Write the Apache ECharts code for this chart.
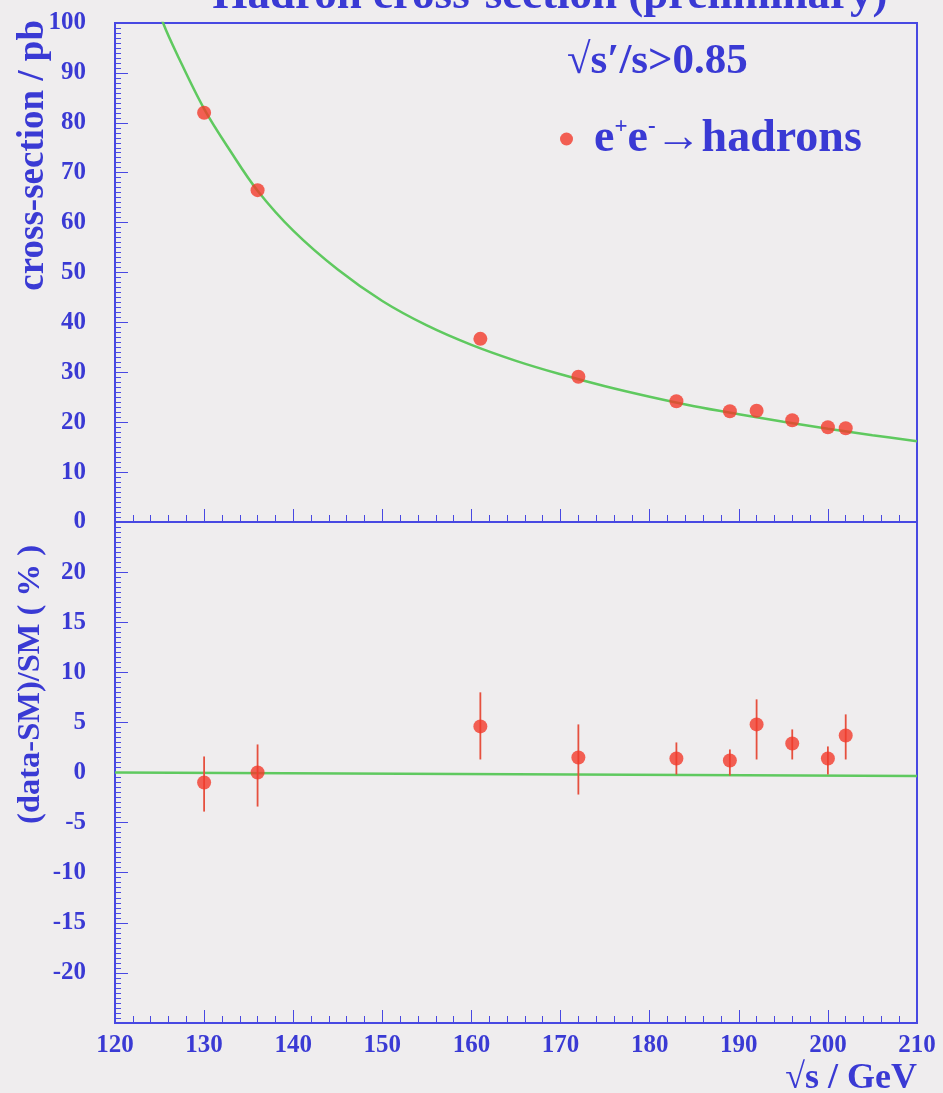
<!DOCTYPE html>
<html>
<head>
<meta charset="utf-8">
<script src="https://cdn.jsdelivr.net/npm/echarts@6/dist/echarts.min.js"></script>
<style>
  html, body { margin: 0; padding: 0; background: #efedee; }
  #chart { width: 943px; height: 1093px; }
</style>
</head>
<body>
<div id="chart"></div>
<script>
// Centre-of-mass energies (GeV) of the measured points
const energies = [130, 136, 161, 172, 183, 189, 192, 196, 200, 202];
// Measured hadronic cross-section (pb), sqrt(s')/s > 0.85
const crossSection = [82.0, 66.5, 36.7, 29.1, 24.2, 22.2, 22.3, 20.4, 19.0, 18.8];
// Relative deviation from the Standard Model (%), with error-bar ends
const residual     = [-1.0, 0.0, 4.6, 1.5, 1.4, 1.2, 4.8, 2.9, 1.4, 3.7];
const residualHigh = [1.6, 2.8, 8.0, 4.8, 3.0, 2.3, 7.3, 4.3, 2.6, 5.8];
const residualLow  = [-3.9, -3.4, 1.3, -2.2, -0.2, -0.3, 1.3, 1.3, -0.2, 1.3];

// Standard Model prediction curve (values above 100 pb run off the top of the frame)
const smEnergy = [120, 123, 125.4, 127, 130, 133, 136, 140, 145, 150, 155, 160, 165, 170, 175, 180, 185, 190, 195, 200, 205, 210];
const smXsec   = [127, 112, 100, 93.6, 82.8, 74.2, 66.4, 58.4, 50.6, 44.3, 39.4, 35.5, 32.3, 29.6, 27.2, 25.1, 23.2, 21.6, 20.1, 18.7, 17.4, 16.2];
const smRatioEnergy = [120, 210];
const smRatio       = [0, -0.35];

// Axis ticks
const xTicks = { min: 120, max: 210, step: 10 };
const yTopTicks = { min: 0, max: 100, step: 10 };
const yBottomTicks = { min: -25, max: 25, step: 5 };

const BLUE = '#3a3ad4';
const FRAME = '#4848e2';
const RED = '#f23a2a';
const GREEN = '#5fc95f';
const SERIF = "'Liberation Serif', 'DejaVu Serif', serif";

const pairs = (xs, ys) => xs.map((x, i) => [x, ys[i]]);

const labelStyle = { color: BLUE, fontFamily: SERIF, fontWeight: 'bold', fontSize: 25 };

function xAxisCfg(gridIndex, showLabels) {
  return {
    type: 'value', gridIndex,
    min: xTicks.min, max: xTicks.max, interval: xTicks.step,
    axisLine: { show: true, onZero: false, lineStyle: { color: FRAME, width: 2 } },
    axisTick: { show: true, inside: true, length: 13, lineStyle: { color: FRAME, width: 1 } },
    minorTick: { show: true, splitNumber: 5, length: 7, lineStyle: { color: FRAME, width: 1 } },
    splitLine: { show: false },
    axisLabel: Object.assign({ show: showLabels, margin: 10 }, labelStyle)
  };
}

function yAxisCfg(gridIndex, t, hideEnds) {
  return {
    type: 'value', gridIndex,
    min: t.min, max: t.max, interval: t.step,
    axisLine: { show: true, onZero: false, lineStyle: { color: FRAME, width: 2 } },
    axisTick: { show: true, inside: true, length: 13, lineStyle: { color: FRAME, width: 1 } },
    minorTick: { show: true, splitNumber: 10, length: 6, lineStyle: { color: FRAME, width: 1 } },
    splitLine: { show: false },
    axisLabel: Object.assign({
      margin: 29,
      showMinLabel: !hideEnds, showMaxLabel: !hideEnds
    }, labelStyle)
  };
}

const chart = echarts.init(document.getElementById('chart'), null, { renderer: 'canvas' });

chart.setOption({
  backgroundColor: '#efedee',
  animation: false,
  grid: [
    { left: 115, top: 23, width: 802, height: 499, show: true, borderColor: FRAME, borderWidth: 2, backgroundColor: 'transparent' },
    { left: 115, top: 522, width: 802, height: 501, show: true, borderColor: FRAME, borderWidth: 2, backgroundColor: 'transparent' }
  ],
  xAxis: [xAxisCfg(0, false), xAxisCfg(1, true)],
  yAxis: [yAxisCfg(0, yTopTicks, false), yAxisCfg(1, yBottomTicks, true)],
  legend: {
    left: 555, top: 111,
    selectedMode: false,
    icon: 'circle', itemWidth: 13, itemHeight: 13,
    data: ['e+e-→hadrons'],
    formatter: () => '{g|e}{s|+}{b|e}{s|-}{b|→hadrons}',
    textStyle: {
      color: BLUE,
      rich: {
        g: { fontFamily: SERIF, fontWeight: 'bold', fontSize: 46, color: BLUE, padding: [0, 0, 0, 16] },
        b: { fontFamily: SERIF, fontWeight: 'bold', fontSize: 46, color: BLUE },
        s: { fontFamily: SERIF, fontWeight: 'bold', fontSize: 23, color: BLUE, verticalAlign: 'top', padding: [0, 0, 21, 0] }
      }
    }
  },
  graphic: [
    {
      type: 'text', x: 550, y: -26,
      style: { text: 'Hadron cross-section (preliminary)', fill: BLUE, font: 'bold 45px ' + SERIF, textAlign: 'center' }
    },
    {
      type: 'text', x: 567, y: 62,
      style: { text: '√s′/s>0.85', fill: BLUE, font: 'bold 43px ' + SERIF, textVerticalAlign: 'middle' }
    },
    {
      type: 'text', x: 33, y: 20, rotation: Math.PI / 2,
      style: { text: 'cross-section / pb', fill: BLUE, font: 'bold 37px ' + SERIF, textAlign: 'right', textVerticalAlign: 'middle' }
    },
    {
      type: 'text', x: 31, y: 545, rotation: Math.PI / 2,
      style: { text: '(data-SM)/SM ( % )', fill: BLUE, font: 'bold 32.5px ' + SERIF, textAlign: 'right', textVerticalAlign: 'middle' }
    },
    {
      type: 'text', x: 917, y: 1079,
      style: { text: '√s / GeV', fill: BLUE, font: 'bold 36px ' + SERIF, textAlign: 'right', textVerticalAlign: 'middle' }
    }
  ],
  series: [
    {
      name: 'SM', type: 'line', xAxisIndex: 0, yAxisIndex: 0,
      data: pairs(smEnergy, smXsec), smooth: 0.35, showSymbol: false, clip: true,
      lineStyle: { color: GREEN, width: 2.5 }, z: 2
    },
    {
      name: 'e+e-→hadrons', type: 'scatter', xAxisIndex: 0, yAxisIndex: 0,
      data: pairs(energies, crossSection), symbol: 'circle', symbolSize: 14,
      itemStyle: { color: RED }, z: 4
    },
    {
      name: 'SM ratio', type: 'line', xAxisIndex: 1, yAxisIndex: 1,
      data: pairs(smRatioEnergy, smRatio), showSymbol: false,
      lineStyle: { color: GREEN, width: 2.5 }, z: 2
    },
    {
      name: 'residual errors', type: 'custom', xAxisIndex: 1, yAxisIndex: 1,
      data: energies.map((e, i) => [e, residualLow[i], residualHigh[i]]),
      encode: { x: 0, y: [1, 2] },
      renderItem: (params, api) => {
        const lo = api.coord([api.value(0), api.value(1)]);
        const hi = api.coord([api.value(0), api.value(2)]);
        return {
          type: 'line',
          shape: { x1: lo[0], y1: lo[1], x2: hi[0], y2: hi[1] },
          style: { stroke: '#e6503e', lineWidth: 1.8 }
        };
      },
      z: 3
    },
    {
      name: 'residual', type: 'scatter', xAxisIndex: 1, yAxisIndex: 1,
      data: pairs(energies, residual), symbol: 'circle', symbolSize: 14,
      itemStyle: { color: RED }, z: 4
    }
  ]
});
</script>
</body>
</html>
